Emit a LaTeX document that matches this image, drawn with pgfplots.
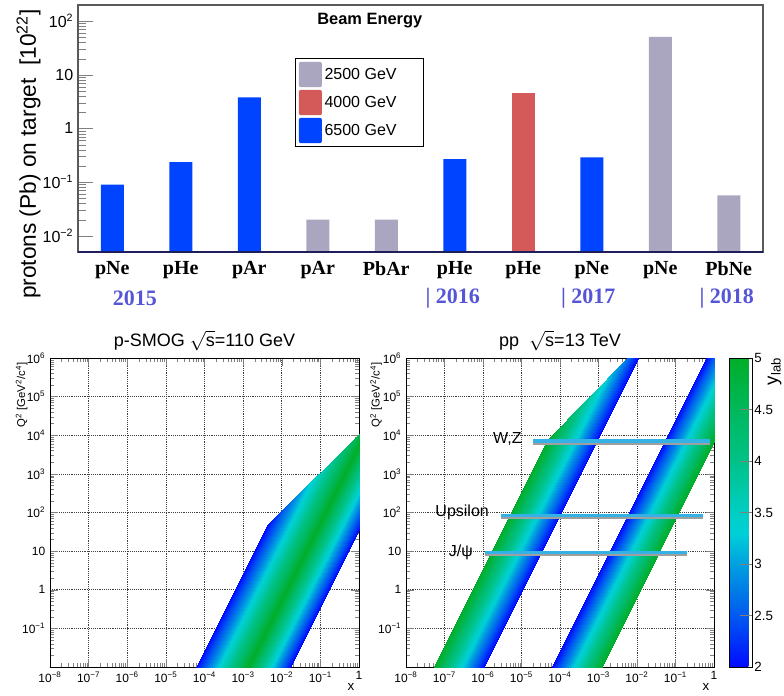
\documentclass[border=0pt]{standalone}
\usepackage{fontspec}
\setmainfont{Liberation Sans}
\newfontfamily\tnr{Liberation Serif}
\usepackage{amsmath}
\usepackage{pgfplots}
\pgfplotsset{compat=1.18}

\definecolor{egray}{RGB}{170,166,192}
\definecolor{ered}{RGB}{212,90,90}
\definecolor{eblue}{RGB}{0,68,255}
\definecolor{navy}{RGB}{30,30,90}
\definecolor{yearblue}{RGB}{85,85,215}
\definecolor{lineblue}{RGB}{52,178,230}

\newcommand{\tp}[1]{10\textsuperscript{#1}}

\pgfplotsset{
  colormap={ylab}{rgb255(0pt)=(0,10,255) rgb255(5pt)=(0,90,240) rgb255(10pt)=(0,160,224)
    rgb255(13pt)=(0,208,216) rgb255(15pt)=(0,206,196) rgb255(20pt)=(0,194,136)
    rgb255(25pt)=(0,184,92) rgb255(30pt)=(0,174,40)},
}

\begin{document}
\begin{tikzpicture}
\path[use as bounding box] (0,0) rectangle (588pt,521.25pt);

% ---------- top: protons on target ----------
\begin{axis}[
  at={(58.5pt,332.25pt)}, anchor=south west,
  scale only axis, width=513.75pt, height=185.25pt,
  ymode=log, log origin y=infty,
  ymin=0.005, ymax=200, xmin=-0.5, xmax=9.5,
  enlargelimits=false, clip=false,
  ybar, bar width=17.25pt,
  xtick={0,...,9},
  xticklabels={pNe,pHe,pAr,pAr,PbAr,pHe,pHe,pNe,pNe,PbNe},
  xticklabel style={font=\tnr\bfseries\fontsize{15}{15}\selectfont, yshift=-3.5pt},
  major x tick style={draw=none},
  ytick={0.01,0.1,1,10,100},
  yticklabels={\tp{−2},\tp{−1},1,10,\tp{2}},
  yticklabel style={font=\fontsize{12}{12}\selectfont},
  ytick pos=left, tick align=inside,
  major tick length=11pt, minor tick length=6pt,
  axis line style={black!65, line width=0.9pt},
  legend style={at={(0.3168,0.7854)}, anchor=north west, draw=black, line width=0.8pt,
    font=\fontsize{12}{12}\selectfont, row sep=2pt, inner xsep=2.5pt, inner ysep=2.5pt,
    cells={anchor=west}},
]
\addplot[fill=egray, draw=none, bar shift=0pt,
  legend image code/.code={\fill[egray, rounded corners=1.5pt] (0pt,-9.5pt) rectangle (17.25pt,9.5pt);}]
  coordinates {(3,0.02) (4,0.02) (8,51) (9,0.057)};
\addlegendentry{\makebox[70pt][l]{2500 GeV}}
\addplot[fill=ered, draw=none, bar shift=0pt,
  legend image code/.code={\fill[ered, rounded corners=1.5pt] (0pt,-9.5pt) rectangle (17.25pt,9.5pt);}]
  coordinates {(6,4.5)};
\addlegendentry{\makebox[70pt][l]{4000 GeV}}
\addplot[fill=eblue, draw=none, bar shift=0pt,
  legend image code/.code={\fill[eblue, rounded corners=1.5pt] (0pt,-9.5pt) rectangle (17.25pt,9.5pt);}]
  coordinates {(0,0.09) (1,0.235) (2,3.8) (5,0.27) (7,0.29)};
\addlegendentry{\makebox[70pt][l]{6500 GeV}}
\draw[navy, line width=2pt] (rel axis cs:0,0) -- (rel axis cs:1,0);
\node[font=\bfseries\fontsize{12.3}{13}\selectfont] at (rel axis cs:0.426,0.935) {Beam Energy};
\begin{scope}[every node/.style={font=\tnr\bfseries\fontsize{16.5}{17}\selectfont, text=yearblue}]
\node at (rel axis cs:0.083,-0.186) {2015};
\node at (rel axis cs:0.547,-0.186) {| 2016};
\node at (rel axis cs:0.745,-0.186) {| 2017};
\node at (rel axis cs:0.947,-0.186) {| 2018};
\end{scope}
\end{axis}
\node[rotate=90, anchor=east, font=\fontsize{17}{17}\selectfont] at (21.4pt,517.5pt)
  {protons (Pb) on target\ \ [10\textsuperscript{22}]};

% ---------- bottom left: p-SMOG ----------
\begin{axis}[at={(37.5pt,21pt)}, anchor=south west,
    scale only axis, width=231.75pt, height=231.75pt,
    xmode=log, ymode=log,
    xmin=1e-8, xmax=1, ymin=0.01, ymax=1e6,
    xtick={1e-8,1e-7,1e-6,1e-5,1e-4,1e-3,1e-2,1e-1,1},
    xticklabels={\tp{−8},\tp{−7},\tp{−6},\tp{−5},\tp{−4},\tp{−3},\tp{−2},\tp{−1},1},
    ytick={0.01,0.1,1,10,100,1e3,1e4,1e5,1e6},
    yticklabels={,\tp{−1},1,10,\tp{2},\tp{3},\tp{4},\tp{5},\tp{6}},
    tick align=inside,
    major tick length=6pt, minor tick length=3pt,
    grid=major, major grid style={densely dotted, black!75, line width=0.5pt},
    tick label style={font=\fontsize{9}{9}\selectfont},
    colormap name=ylab, point meta min=2, point meta max=5,
    title style={at={(0.5,1)}, anchor=south, yshift=-4pt,
      font=\fontsize{13.5}{14}\selectfont},
    xlabel={x},
    xlabel style={at={(rel axis cs:1,0)}, anchor=north east, yshift=-9pt,
      font=\fontsize{10}{10}\selectfont},
    ylabel={Q\textsuperscript{2} [GeV\textsuperscript{2}/c\textsuperscript{4}]},
    ylabel style={at={(rel axis cs:-0.092,1)}, anchor=east,
      font=\fontsize{8.5}{9}\selectfont},
  title={p-SMOG $\sqrt{\text{s}}$=110 GeV}]
\addplot[patch, shader=interp, point meta=explicit, table/row sep=\\,
  patch table={0 1 2\\ 0 2 3\\ 0 3 4\\ 0 4 5\\ 1 6 7\\ 1 7 2\\}]
  table[x=x, y=y, meta=c] {
x y c\\
6.03e-5 0.01 2\\
1.35e-3 0.01 5\\
1 5500 5\\
1 11000 4.67\\
9.12e-3 105 2.38\\
4.17e-3 47.9 2\\
1.66e-2 0.01 2\\
1 36.3 2\\
};
\end{axis}

% ---------- bottom right: pp 13 TeV ----------
\begin{axis}[at={(304.5pt,21pt)}, anchor=south west,
    scale only axis, width=231pt, height=231.75pt,
    xmode=log, ymode=log,
    xmin=1e-8, xmax=1, ymin=0.01, ymax=1e6,
    xtick={1e-8,1e-7,1e-6,1e-5,1e-4,1e-3,1e-2,1e-1,1},
    xticklabels={\tp{−8},\tp{−7},\tp{−6},\tp{−5},\tp{−4},\tp{−3},\tp{−2},\tp{−1},1},
    ytick={0.01,0.1,1,10,100,1e3,1e4,1e5,1e6},
    yticklabels={,\tp{−1},1,10,\tp{2},\tp{3},\tp{4},\tp{5},\tp{6}},
    tick align=inside,
    major tick length=6pt, minor tick length=3pt,
    grid=major, major grid style={densely dotted, black!75, line width=0.5pt},
    tick label style={font=\fontsize{9}{9}\selectfont},
    colormap name=ylab, point meta min=2, point meta max=5,
    title style={at={(0.5,1)}, anchor=south, yshift=-4pt,
      font=\fontsize{13.5}{14}\selectfont},
    xlabel={x},
    xlabel style={at={(rel axis cs:1,0)}, anchor=north east, yshift=-9pt,
      font=\fontsize{10}{10}\selectfont},
    ylabel={Q\textsuperscript{2} [GeV\textsuperscript{2}/c\textsuperscript{4}]},
    ylabel style={at={(rel axis cs:-0.097,1)}, anchor=east,
      font=\fontsize{8.5}{9}\selectfont},
  title={pp\ \ $\sqrt{\text{s}}$=13 TeV},
  colorbar,
  colorbar style={
    at={(parent axis.north east)}, anchor=north west, xshift=3pt,
    scale only axis, width=17.25pt, height=231.75pt,
    ytick={2,2.5,3,3.5,4,4.5,5},
    ytick pos=right, yticklabel pos=right,
    tick align=inside, major tick length=9pt,
    /pgf/number format/assume math mode=true,
    yticklabel style={font=\fontsize{10}{10}\selectfont, xshift=-2pt},
    ylabel={y\textsubscript{lab}},
    ylabel style={at={(rel axis cs:1.97,1.016)}, anchor=east,
      font=\fontsize{14}{14}\selectfont},
  },
]
\addplot[patch, shader=interp, point meta=explicit, table/row sep=\\,
  patch table={0 1 2\\ 0 2 3\\ 0 3 4\\ 5 6 7\\ 5 7 8\\ 5 8 9\\}]
  table[x=x, y=y, meta=c] {
x y c\\
5.25e-8 0.01 5\\
1.07e-6 0.01 2\\
1.07e-2 1e6 2\\
5.37e-3 1e6 2.69\\
4.57e-5 7586 5\\
6.03e-5 0.01 2\\
1.20e-3 0.01 5\\
1 6918 5\\
1 1e6 2.51\\
0.603 1e6 2\\
};
% resonance lines
\addplot[gray!75, line width=3pt, yshift=-0.7pt] coordinates {(2.0e-5,6800) (0.79,6800)};
\addplot[lineblue, line width=2.6pt, yshift=0.4pt] coordinates {(2.0e-5,6800) (0.79,6800)};
\addplot[gray!75, line width=3pt, yshift=-0.7pt] coordinates {(2.95e-6,81) (0.51,81)};
\addplot[lineblue, line width=2.6pt, yshift=0.4pt] coordinates {(2.95e-6,81) (0.51,81)};
\addplot[gray!75, line width=3pt, yshift=-0.7pt] coordinates {(1.12e-6,8.9) (0.20,8.9)};
\addplot[lineblue, line width=2.6pt, yshift=0.4pt] coordinates {(1.12e-6,8.9) (0.20,8.9)};
\begin{scope}[every node/.style={anchor=east, font=\fontsize{12}{12}\selectfont, inner sep=0pt}]
\node at (axis cs:1.02e-5,8100) {W,Z};
\node at (axis cs:1.44e-6,98) {Upsilon};
\node at (axis cs:5.5e-7,9.5) {J/ψ};
\end{scope}
\end{axis}
\end{tikzpicture}
\end{document}
